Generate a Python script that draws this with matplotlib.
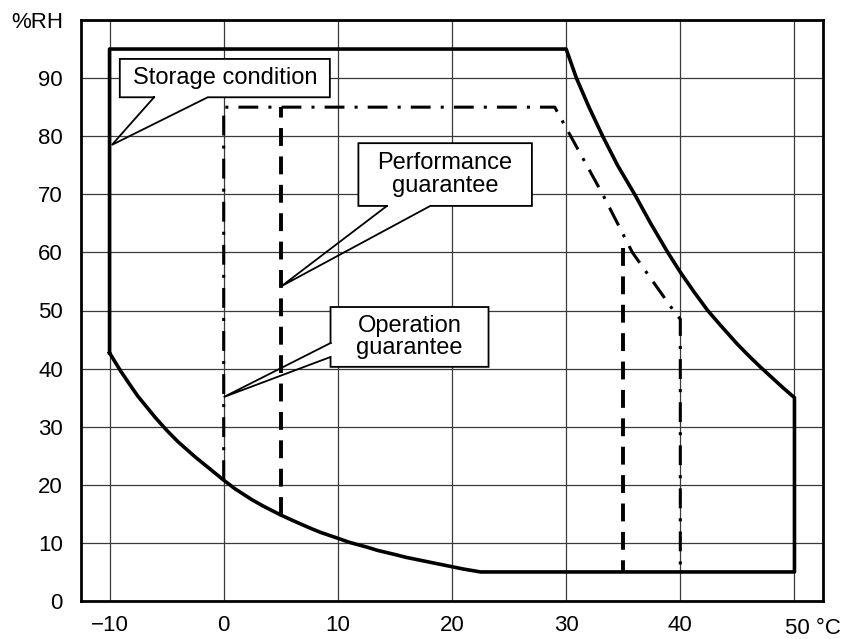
import numpy as np
import matplotlib
matplotlib.use("Agg")
import matplotlib.pyplot as plt
from matplotlib.patches import Rectangle

plt.rcParams['font.family'] = ['Liberation Sans', 'DejaVu Sans']

# storage condition outline (deg C, %RH)
storage_t = [-10, -10, 30, 30.9, 32.0, 33.2, 34.5, 36.0, 37.4, 38.9, 40.0, 41.2, 42.4, 43.5, 45.0,
             46.0, 47.0, 48.0, 49.0, 50,
             50, 22.5, 21, 20, 18.5, 17.5, 16, 15, 13.5, 12.5, 11, 10, 8.5, 7.5, 6, 5, 3.5, 2.5,
             1, 0, -1, -2.5, -4, -5, -6, -7.5, -8, -9, -10]
storage_rh = [42.7, 95, 95, 90, 85, 80, 75, 70, 65, 60, 56.6, 53.2, 50, 47.5, 44.2,
              42.2, 40.3, 38.5, 36.7, 35,
              5, 5, 5.5, 5.9, 6.5, 6.9, 7.5, 8.0, 8.7, 9.3, 10.1, 10.8, 11.8, 12.6, 13.9, 14.8, 16.3, 17.4,
              19.3, 20.8, 22.4, 24.8, 27.4, 29.4, 31.6, 35.2, 36.6, 39.5, 42.7]

# operation guarantee (dash-dot)
oper_t = [0, 0, 29.0, 30.4, 33.2, 35.8, 39.4, 40, 40]
oper_rh = [20.8, 85, 85, 80, 70, 60, 50, 48.5, 5]

# performance guarantee (dashed verticals)
perf_t = [5, 5, 35, 35]
perf_rh = [14.8, 85, 60.8, 5]

xticks = [-10, 0, 10, 20, 30, 40, 50]
xlabels = ['\u221210', '0', '10', '20', '30', '40', '']
yticks = [0, 10, 20, 30, 40, 50, 60, 70, 80, 90, 100]
ylabels = ['0', '10', '20', '30', '40', '50', '60', '70', '80', '90', '%RH']

fig = plt.figure(figsize=(8.48, 6.39), dpi=100)
ax = fig.add_axes([81/848, 1-601/639, (823-81)/848, (601-20)/639])

ax.set_xlim(-12.5, 52.5)
ax.set_ylim(0, 100)
ax.set_xticks(xticks)
ax.set_xticklabels(xlabels)
ax.set_yticks(yticks)
ax.set_yticklabels(ylabels)
ax.tick_params(axis='both', length=0, labelsize=16)
ax.tick_params(axis='y', pad=13)
ax.tick_params(axis='x', pad=10)
ax.grid(True, color='#3a3a3a', lw=0.9)
ax.set_axisbelow(True)
for s in ax.spines.values():
    s.set_linewidth(2.0)

ax.annotate('50 \u00b0C', xy=(50, 0), xycoords=('data', 'axes fraction'),
            xytext=(-6.5, -12), textcoords='offset points',
            ha='left', va='top', fontsize=16)

ax.plot(storage_t, storage_rh, color='black', lw=2.6, solid_joinstyle='round', zorder=3)
ax.plot(oper_t, oper_rh, color='black', lw=2.2,
        linestyle=(0, (6.5, 3.3, 1.0, 3.3)), zorder=3)
ax.plot(perf_t[:2], perf_rh[:2], color='black', lw=2.8,
        linestyle=(0, (4.6, 2.7)), zorder=3)
ax.plot(perf_t[2:], perf_rh[2:], color='black', lw=2.8,
        linestyle=(0, (4.6, 2.7)), zorder=3)


def callout(x0, x1, y0, y1, outline, text):
    ax.add_patch(Rectangle((x0, y0), x1 - x0, y1 - y0, facecolor='white',
                           edgecolor='none', zorder=4))
    xs, ys = zip(*outline)
    ax.plot(xs, ys, color='black', lw=1.3, zorder=5, solid_joinstyle='miter')
    ax.text((x0 + x1) / 2, (y0 + y1) / 2, text, ha='center', va='center',
            fontsize=17, linespacing=1.05, zorder=6)


callout(-9.1, 9.3, 86.7, 93.3,
        [(-6.1, 86.7), (-9.1, 86.7), (-9.1, 93.3), (9.3, 93.3), (9.3, 86.7),
         (-1.4, 86.7), (-9.8, 78.5), (-6.1, 86.7)],
        'Storage condition')
callout(11.8, 27.0, 68.0, 78.8,
        [(14.3, 68.0), (11.8, 68.0), (11.8, 78.8), (27.0, 78.8), (27.0, 68.0),
         (18.1, 68.0), (5.07, 54.2), (14.3, 68.0)],
        'Performance\nguarantee')
callout(9.36, 23.2, 40.3, 50.6,
        [(9.36, 44.4), (9.36, 50.6), (23.2, 50.6), (23.2, 40.3), (9.36, 40.3),
         (9.36, 42.0), (0, 35.1), (9.36, 44.4)],
        'Operation\nguarantee')

fig.savefig('out.png', dpi=100)
